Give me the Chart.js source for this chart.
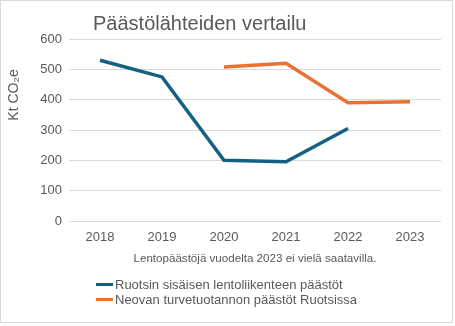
<!DOCTYPE html>
<html>
<head>
<meta charset="utf-8">
<script src="https://cdn.jsdelivr.net/npm/chart.js@4"></script>
<style>
  body { margin: 0; background: #fff; }
  #wrap { position: relative; width: 455px; height: 326px; font-family: "Liberation Sans", Arial, sans-serif; }
  #frame { position: absolute; left: 0; top: 0; width: 451px; height: 321px; border: 1px solid #d9d9d9; pointer-events: none; }
  #legend { position: absolute; left: 96px; top: 277px; font-size: 13px; line-height: 15px; color: #595959; }
  #legend div { display: flex; align-items: center; white-space: nowrap; }
  #legend span.swatch { display: inline-block; width: 17px; height: 3px; margin-right: 2px; }
</style>
</head>
<body>
<div id="wrap">
  <canvas id="chart" width="455" height="326"></canvas>
  <div id="legend"></div>
  <div id="frame"></div>
</div>
<script>
// Data
const years = ['2018', '2019', '2020', '2021', '2022', '2023'];
const flightEmissions = [530, 475, 200, 195, 305, null];
const peatEmissions = [null, null, 508, 520, 390, 393];

const seriesLabels = [
    'Ruotsin sisäisen lentoliikenteen päästöt',
    'Neovan turvetuotannon päästöt Ruotsissa'
];
const seriesColors = ['#156082', '#E97132'];

const chartTitle = 'Päästölähteiden vertailu';
const yTitle = 'Kt CO₂e';
const xTitle = 'Lentopäästöjä vuodelta 2023 ei vielä saatavilla.';

const textColor = '#595959';
const fontFamily = '"Liberation Sans", Arial, sans-serif';

// Title and y-axis label are drawn where the original puts them
const extraText = {
    id: 'extraText',
    afterDraw(chart) {
        const ctx = chart.ctx;
        ctx.save();
        ctx.fillStyle = textColor;
        ctx.font = '20px ' + fontFamily;
        ctx.textAlign = 'left';
        ctx.textBaseline = 'middle';
        ctx.fillText(chartTitle, 93, 24);

        ctx.font = '14px ' + fontFamily;
        ctx.translate(14, 95);
        ctx.rotate(-Math.PI / 2);
        ctx.textAlign = 'center';
        ctx.fillText(yTitle, 0, 0);
        ctx.restore();
    }
};

const ctx = document.getElementById('chart').getContext('2d');
const chart = new Chart(ctx, {
    type: 'line',
    data: {
        labels: years,
        datasets: [
            {
                label: seriesLabels[0],
                data: flightEmissions,
                borderColor: seriesColors[0],
                backgroundColor: seriesColors[0],
                borderWidth: 3.5,
                pointRadius: 0,
                tension: 0
            },
            {
                label: seriesLabels[1],
                data: peatEmissions,
                borderColor: seriesColors[1],
                backgroundColor: seriesColors[1],
                borderWidth: 3.5,
                pointRadius: 0,
                tension: 0
            }
        ]
    },
    options: {
        responsive: false,
        animation: false,
        layout: {
            padding: { top: 39, right: 14, bottom: 50, left: 0 }
        },
        plugins: {
            legend: { display: false },
            title: { display: false },
            tooltip: { enabled: false }
        },
        scales: {
            x: {
                offset: true,
                grid: { display: false, drawTicks: false },
                border: { display: false },
                ticks: {
                    color: textColor,
                    padding: 9,
                    font: { family: fontFamily, size: 13 }
                },
                title: {
                    display: true,
                    text: xTitle,
                    color: textColor,
                    font: { family: fontFamily, size: 11.6 },
                    padding: { top: 0, bottom: 10 }
                },
                afterFit(scale) { scale.height = 55; }
            },
            y: {
                min: 0,
                max: 600,
                grid: { color: '#d9d9d9', lineWidth: 1, drawTicks: false },
                border: { display: false },
                ticks: {
                    stepSize: 100,
                    color: textColor,
                    padding: 7,
                    font: { family: fontFamily, size: 13 }
                },
                afterFit(scale) { scale.width = 69; }
            }
        }
    },
    plugins: [extraText]
});

// Legend stacked under the chart, left aligned like the original
const legendEl = document.getElementById('legend');
chart.data.datasets.forEach(ds => {
    const row = document.createElement('div');
    const sw = document.createElement('span');
    sw.className = 'swatch';
    sw.style.background = ds.borderColor;
    row.appendChild(sw);
    row.appendChild(document.createTextNode(ds.label));
    legendEl.appendChild(row);
});
</script>
</body>
</html>
